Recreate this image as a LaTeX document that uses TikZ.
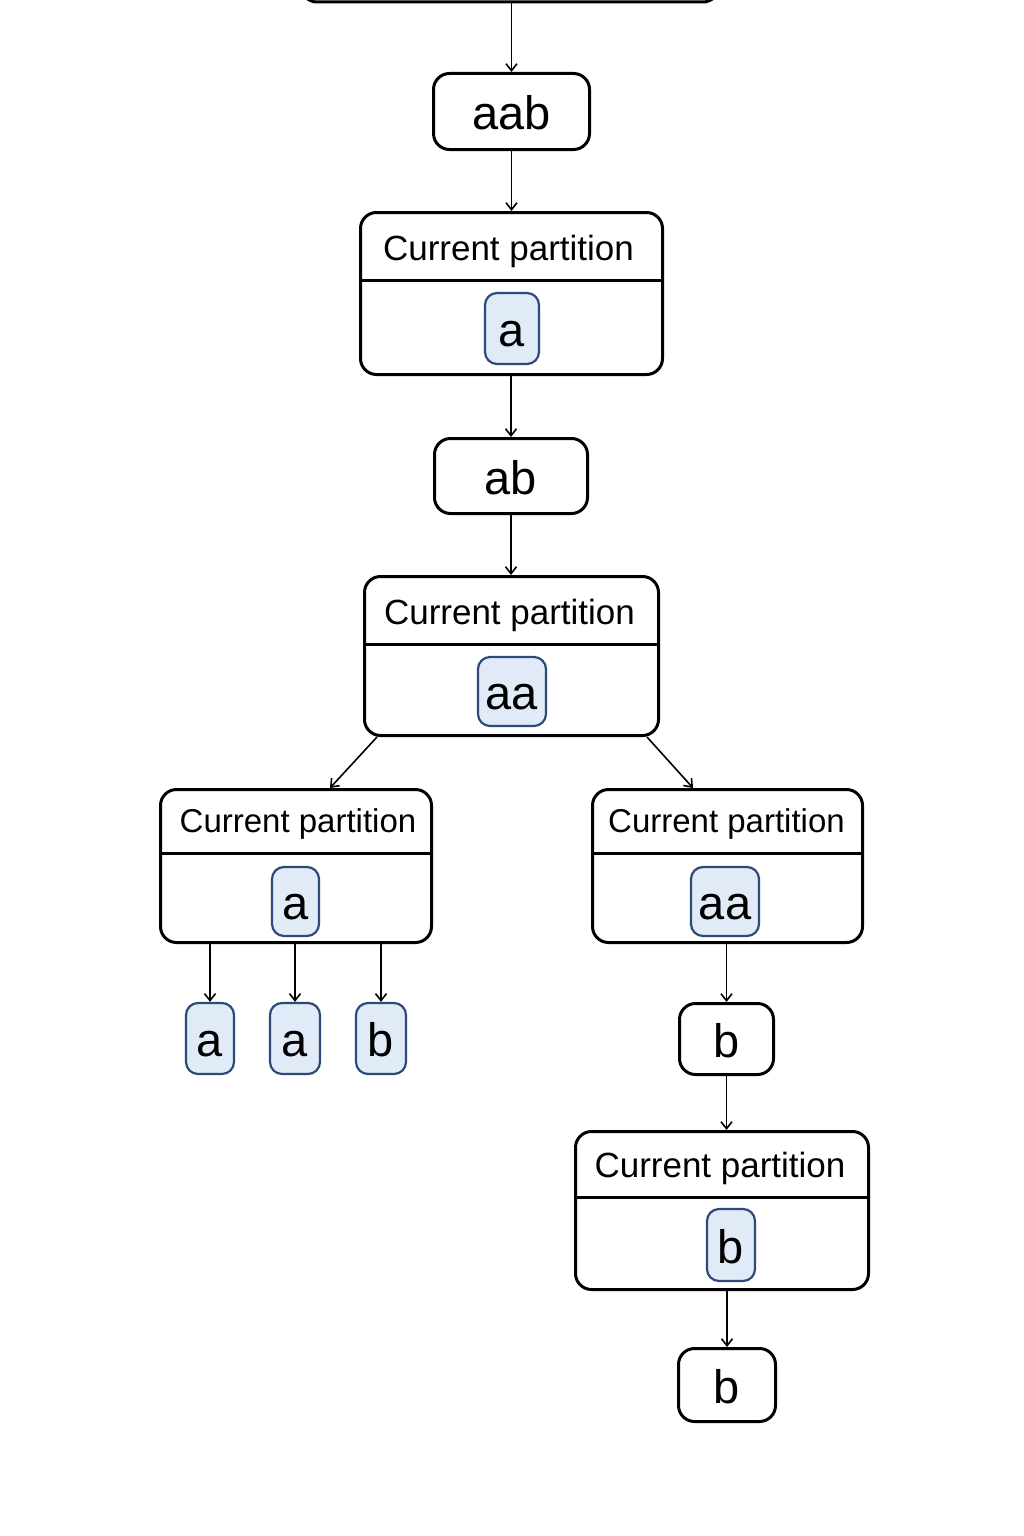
\documentclass[tikz,border=0pt]{standalone}
\usepackage{fontspec}
\setmainfont{Liberation Sans}
\usetikzlibrary{arrows.meta,calc}
\definecolor{bluefill}{HTML}{E1EBF8}
\definecolor{blueline}{HTML}{2E4A78}
\begin{document}
\begin{tikzpicture}[x=1pt,y=-1pt,
  box/.style={draw=black, line width=3pt, rounded corners=16pt, inner sep=0pt, fill=white},
  big/.style={font=\fontsize{47}{50}\selectfont, text height=36pt, text depth=0pt},
  blu/.style={draw=blueline, fill=bluefill, line width=2.2pt, rounded corners=12pt, inner sep=0pt},
  ttl/.style={anchor=base, inner sep=0pt},
  ttlA/.style={ttl, font=\fontsize{35}{40}\selectfont},
  ttlB/.style={ttl, font=\fontsize{33}{38}\selectfont},
  divline/.style={line width=3pt},
  arr/.style={-{Straight Barb[length=7pt,width=11pt]}, line width=1.6pt},
]
\useasboundingbox (0,0) rectangle (1024,1536);

% top (cut off) box
\node[box, minimum width=418pt, minimum height=100pt] (top) at (510,-48) {};

% aab
\node[box, big, minimum width=156pt, minimum height=76pt] (aab) at (511.5,111.5) {aab};
\draw[arr] (aab.north |- top.south) -- (aab.north);

% partition 1
\node[box, minimum width=302pt, minimum height=162pt] (p1) at (511.5,293.5) {};
\coordinate (d1) at (0,280);
\draw[divline] (p1.west |- d1) -- (p1.east |- d1);
\node[ttlA] (t1) at (508.5,260) {Current partition};
\node[blu, big, minimum width=54pt, minimum height=71pt] (q1) at (512,328.5) {a};
\draw[arr] (aab.south) -- (p1.north);

% ab
\node[box, big, minimum width=153pt, minimum height=75pt] (ab) at (511,476) {ab};
\draw[arr] (ab.north |- p1.south) -- (ab.north);

% partition 2
\node[box, minimum width=294pt, minimum height=159pt] (p2) at (511.5,656) {};
\coordinate (d2) at (0,644);
\draw[divline] (p2.west |- d2) -- (p2.east |- d2);
\node[ttlA] (t2) at (509.5,624) {Current partition};
\node[blu, big, minimum width=68pt, minimum height=69pt] (q2) at (512,691.5) {aa};
\draw[arr] (ab.south) -- (ab.south |- p2.north);

% partition 3 (left)
\node[box, minimum width=271pt, minimum height=153pt] (p3) at (296,866) {};
\coordinate (d3) at (0,853);
\draw[divline] (p3.west |- d3) -- (p3.east |- d3);
\node[ttlB] (t3) at (298,832) {Current partition};
\node[blu, big, minimum width=47pt, minimum height=69pt] (q3) at (295.5,901.5) {a};

% partition 4 (right)
\node[box, minimum width=270pt, minimum height=153pt] (p4) at (727.5,866) {};
\draw[divline] (p4.west |- d3) -- (p4.east |- d3);
\node[ttlB] (t4) at (726.5,832) {Current partition};
\node[blu, big, minimum width=68pt, minimum height=69pt] (q4) at (725,901.5) {aa};

\draw[arr] ($(p2.south)+(-134.5,0)$) -- ($(p3.north)+(34,0)$);
\draw[arr] ($(p2.south)+(135.5,0)$) -- ($(p4.north)+(-34.5,0)$);

% leaves under partition 3
\node[blu, big, minimum width=48pt, minimum height=71pt] (l1) at (210,1038.5) {a};
\node[blu, big, minimum width=50pt, minimum height=71pt] (l2) at (295,1038.5) {a};
\node[blu, big, minimum width=50pt, minimum height=71pt] (l3) at (381,1038.5) {b};
\draw[arr] (l1.north |- p3.south) -- (l1.north);
\draw[arr] (l2.north |- p3.south) -- (l2.north);
\draw[arr] (l3.north |- p3.south) -- (l3.north);

% right column
\node[box, big, minimum width=94pt, minimum height=71pt] (b1) at (726.5,1039) {b};
\draw[arr] (b1.north |- p4.south) -- (b1.north);

\node[box, minimum width=293pt, minimum height=158pt] (p5) at (722,1210.5) {};
\coordinate (d5) at (0,1197);
\draw[divline] (p5.west |- d5) -- (p5.east |- d5);
\node[ttlA] (t5) at (720,1177) {Current partition};
\node[blu, big, minimum width=48pt, minimum height=72pt] (q5) at (731,1245) {b};
\draw[arr] (b1.south) -- (b1.south |- p5.north);

\node[box, big, minimum width=97pt, minimum height=73pt] (b2) at (727,1385) {b};
\draw[arr] (b2.north |- p5.south) -- (b2.north);
\end{tikzpicture}
\end{document}
